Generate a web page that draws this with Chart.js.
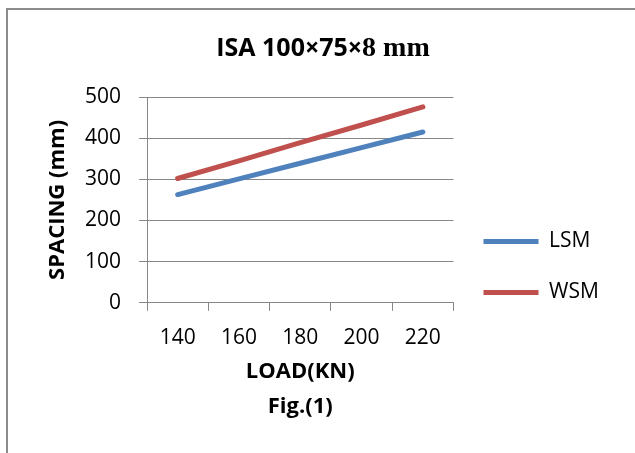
<!DOCTYPE html>
<html>
<head>
<meta charset="utf-8">
<script src="https://cdn.jsdelivr.net/npm/chart.js@4.4.1/dist/chart.umd.min.js"></script>
<style>
  body { margin: 0; overflow: hidden; background: #fff; }
  #frame { position: absolute; left: 6px; top: 8px; width: 700px; height: 500px; border: 2px solid #8c8c8c; }
  #wrap { position: absolute; left: 0; top: 0; width: 635px; height: 453px; }
</style>
</head>
<body>
<div id="frame"></div>
<div id="wrap"><canvas id="chart" width="635" height="453"></canvas></div>
<script>
// load (KN) on the x axis
const LOADS = ["140", "160", "180", "200", "220"];
// spacing (mm)
const LSM = [263, 301, 339, 377, 415];
const WSM = [302, 345, 389, 432, 476];
const Y_TICKS = [0, 100, 200, 300, 400, 500];

// title is set in two fonts in the original (sans + serif)
const TITLE_PARTS = ["ISA 100\u00d775\u00d7", "8 mm"];
const X_TITLE = ["LOAD(KN)", "Fig.(1)"];
const Y_TITLE = "SPACING (mm)";

const GRID = "#878787";
const FONT = "'Open Sans', sans-serif";

// draws the title centred at x=323, y=48
const mixedTitle = {
  id: "mixedTitle",
  afterDraw(chart) {
    const ctx = chart.ctx;
    const fonts = ["bold 25px " + FONT, "bold 28px 'Liberation Serif', 'Times New Roman', serif"];
    ctx.save();
    ctx.textBaseline = "middle";
    ctx.textAlign = "left";
    ctx.fillStyle = "#000";
    let widths = TITLE_PARTS.map((t, i) => { ctx.font = fonts[i]; return ctx.measureText(t).width; });
    let x = 323 - (widths[0] + widths[1]) / 2;
    TITLE_PARTS.forEach((t, i) => {
      ctx.font = fonts[i];
      ctx.fillText(t, x, 49);
      x += widths[i];
    });
    ctx.restore();
  },
};

new Chart("chart", {
  type: "line",
  data: {
    labels: LOADS,
    datasets: [
      { label: "LSM", data: LSM, borderColor: "#4f81bd", backgroundColor: "#4f81bd" },
      { label: "WSM", data: WSM, borderColor: "#c0504d", backgroundColor: "#c0504d" },
    ].map(d => ({
      ...d,
      borderWidth: 5,
      borderCapStyle: "round",
      pointRadius: 0,
      pointStyle: "line",
      tension: 0,
      fill: false,
    })),
  },
  plugins: [mixedTitle],
  options: {
    responsive: false,
    animation: false,
    layout: { padding: { left: 2, right: 31, top: 97, bottom: 16 } },
    plugins: {
      title: { display: false },
      legend: {
        position: "right",
        labels: {
          usePointStyle: true,
          pointStyleWidth: 55,
          padding: 30,
          color: "#000",
          font: { family: FONT, size: 21 },
        },
      },
      tooltip: { enabled: false },
    },
    scales: {
      x: {
        offset: true,
        grid: {
          display: true,
          drawOnChartArea: false,
          drawTicks: true,
          tickLength: 8,
          offset: true,
          color: GRID,
        },
        border: { display: true, color: GRID },
        ticks: {
          color: "#000",
          padding: 15,
          font: { family: FONT, size: 21 },
        },
        title: {
          display: true,
          text: X_TITLE,
          color: "#000",
          font: { family: FONT, size: 22, weight: "bold", lineHeight: 35 / 22 },
          padding: { top: -11.5, bottom: 12.5 },
        },
      },
      y: {
        min: Y_TICKS[0],
        max: Y_TICKS[Y_TICKS.length - 1],
        afterBuildTicks: (axis) => { axis.ticks = Y_TICKS.map(v => ({ value: v })); },
        grid: { color: GRID, tickLength: 8, drawTicks: true },
        border: { display: true, color: GRID },
        ticks: {
          color: "#000",
          padding: 18,
          font: { family: FONT, size: 21 },
        },
        title: {
          display: true,
          text: Y_TITLE,
          color: "#000",
          font: { family: FONT, size: 22, weight: "bold", lineHeight: 1.2 },
          padding: { top: 42.8, bottom: -4.2 },
        },
      },
    },
  },
});
</script>
</body>
</html>
